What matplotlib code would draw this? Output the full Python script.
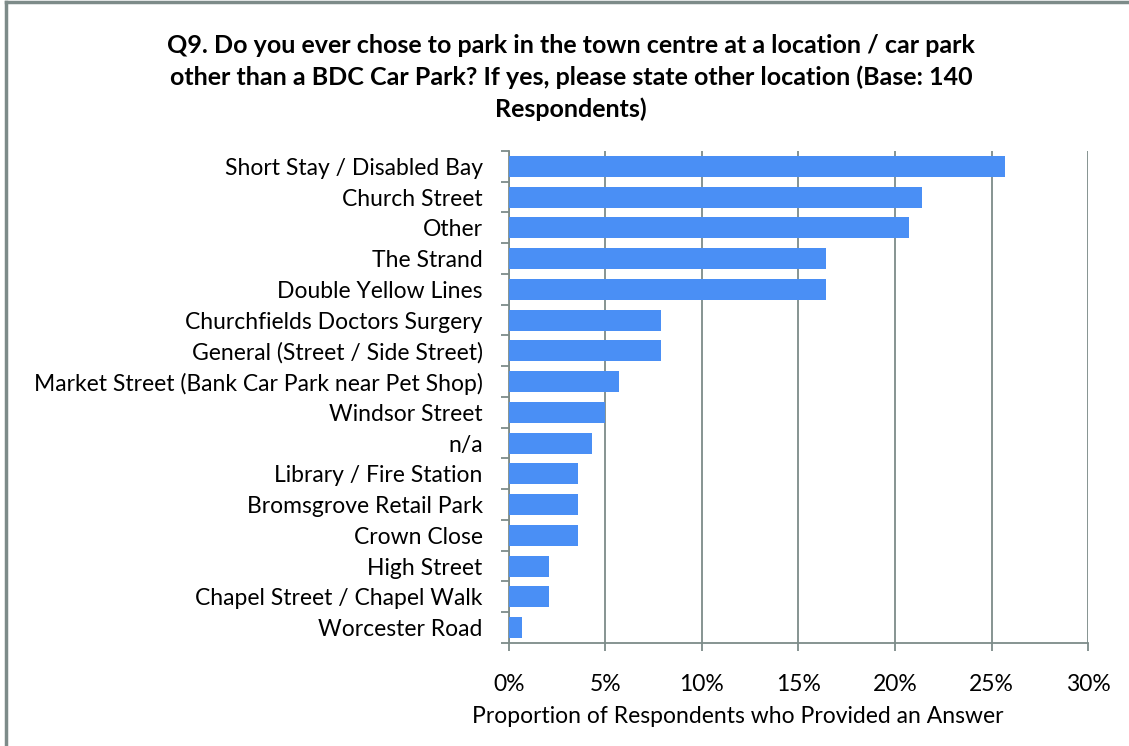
import matplotlib
matplotlib.use("Agg")
from matplotlib import pyplot as plt
from matplotlib.lines import Line2D
from matplotlib.ticker import FuncFormatter, FixedLocator

# survey answers, top to bottom as listed
locais = [
    "Short Stay / Disabled Bay",
    "Church Street",
    "Other",
    "The Strand",
    "Double Yellow Lines",
    "Churchfields Doctors Surgery",
    "General (Street / Side Street)",
    "Market Street (Bank Car Park near Pet Shop)",
    "Windsor Street",
    "n/a",
    "Library / Fire Station",
    "Bromsgrove Retail Park",
    "Crown Close",
    "High Street",
    "Chapel Street / Chapel Walk",
    "Worcester Road",
]
# proportion of the 140 respondents
proporcoes = [0.257, 0.214, 0.207, 0.164, 0.164, 0.079, 0.079, 0.057,
              0.050, 0.043, 0.036, 0.036, 0.036, 0.021, 0.021, 0.007]
marcas_x = [0, 0.05, 0.10, 0.15, 0.20, 0.25, 0.30]

titulo = ("Q9. Do you ever chose to park in the town centre at a location / car park\n"
          "other than a BDC Car Park? If yes, please state other location (Base: 140\n"
          "Respondents)")

cinza = "#7d8b89"
azul = "#4a8ff5"

plt.rcParams['font.family'] = ['Lato', 'DejaVu Sans']

fig = plt.figure(figsize=(11.29, 7.46), dpi=100)
ax = fig.add_axes([0.4508, 0.1381, 0.5129, 0.6595])

pos = list(range(len(locais)))
ax.barh(pos, proporcoes, height=0.68, color=azul, zorder=3)
ax.set_ylim(len(locais) - 0.5, -0.5)
ax.set_xlim(0, 0.30)

ax.xaxis.set_major_locator(FixedLocator(marcas_x))
ax.xaxis.set_major_formatter(FuncFormatter(lambda v, p: f"{v * 100:.0f}%"))
ax.grid(axis='x', color=cinza, linewidth=1.3, zorder=0)

ax.set_yticks(pos)
ax.set_yticklabels(locais, fontsize=16.5)
ax.yaxis.set_minor_locator(FixedLocator([p - 0.5 for p in pos] + [len(locais) - 0.5]))
ax.tick_params(axis='y', which='major', length=0, pad=19)
ax.tick_params(axis='y', which='minor', length=6, width=1.3, color=cinza)
ax.tick_params(axis='x', length=6, width=1.3, color=cinza, labelsize=16.5, pad=16)

for lado in ['top', 'right']:
    ax.spines[lado].set_visible(False)
for lado in ['left', 'bottom']:
    ax.spines[lado].set_color(cinza)
    ax.spines[lado].set_linewidth(1.3)

ax.set_xlabel("Proportion of Respondents who Provided an Answer", fontsize=16.5)
ax.xaxis.set_label_coords(0.395, -0.128)

fig.text(0.506, 0.955, titulo, ha='center', va='top', fontsize=18, fontweight='bold',
         linespacing=1.45)

# moldura parcial do grafico
fig.add_artist(Line2D([0.005, 0.005], [0, 0.997], transform=fig.transFigure,
                      color=cinza, linewidth=2.5))
fig.add_artist(Line2D([0.005, 1], [0.997, 0.997], transform=fig.transFigure,
                      color=cinza, linewidth=2.5))

fig.savefig("out.png", dpi=100)
